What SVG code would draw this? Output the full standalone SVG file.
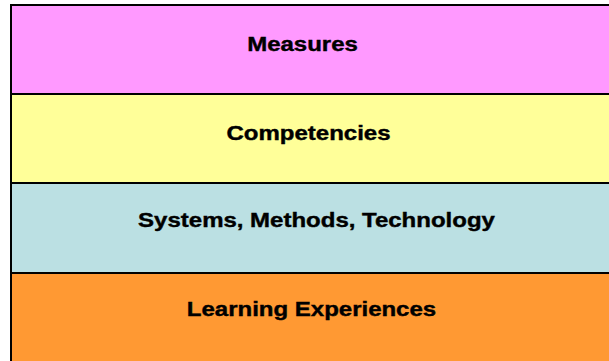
<svg xmlns="http://www.w3.org/2000/svg" width="609" height="361" viewBox="0 0 609 361">
<style>
.band{stroke:#000;stroke-width:2}
.lbl{font-family:"Liberation Sans",Arial,sans-serif;font-weight:bold;font-size:20px;fill:#000;stroke:#000;stroke-width:0.4;text-anchor:middle}
</style>
<rect x="0" y="0" width="609" height="361" fill="#fff"/>
<g id="measures">
<rect class="band" x="11" y="5" width="610" height="89" fill="#FF99FF"/>
<text class="lbl" transform="translate(302.5,51) scale(1.2,1)">Measures</text>
</g>
<g id="competencies">
<rect class="band" x="11" y="94" width="610" height="89" fill="#FFFF99"/>
<text class="lbl" transform="translate(308.5,140) scale(1.2,1)">Competencies</text>
</g>
<g id="systems">
<rect class="band" x="11" y="183" width="610" height="90" fill="#BBE0E3"/>
<text class="lbl" transform="translate(316.5,227) scale(1.2,1)">Systems, Methods, Technology</text>
</g>
<g id="learning">
<rect class="band" x="11" y="273" width="610" height="100" fill="#FF9933"/>
<text class="lbl" transform="translate(311.5,316) scale(1.2,1)">Learning Experiences</text>
</g>
<g id="connectors"/>
</svg>
